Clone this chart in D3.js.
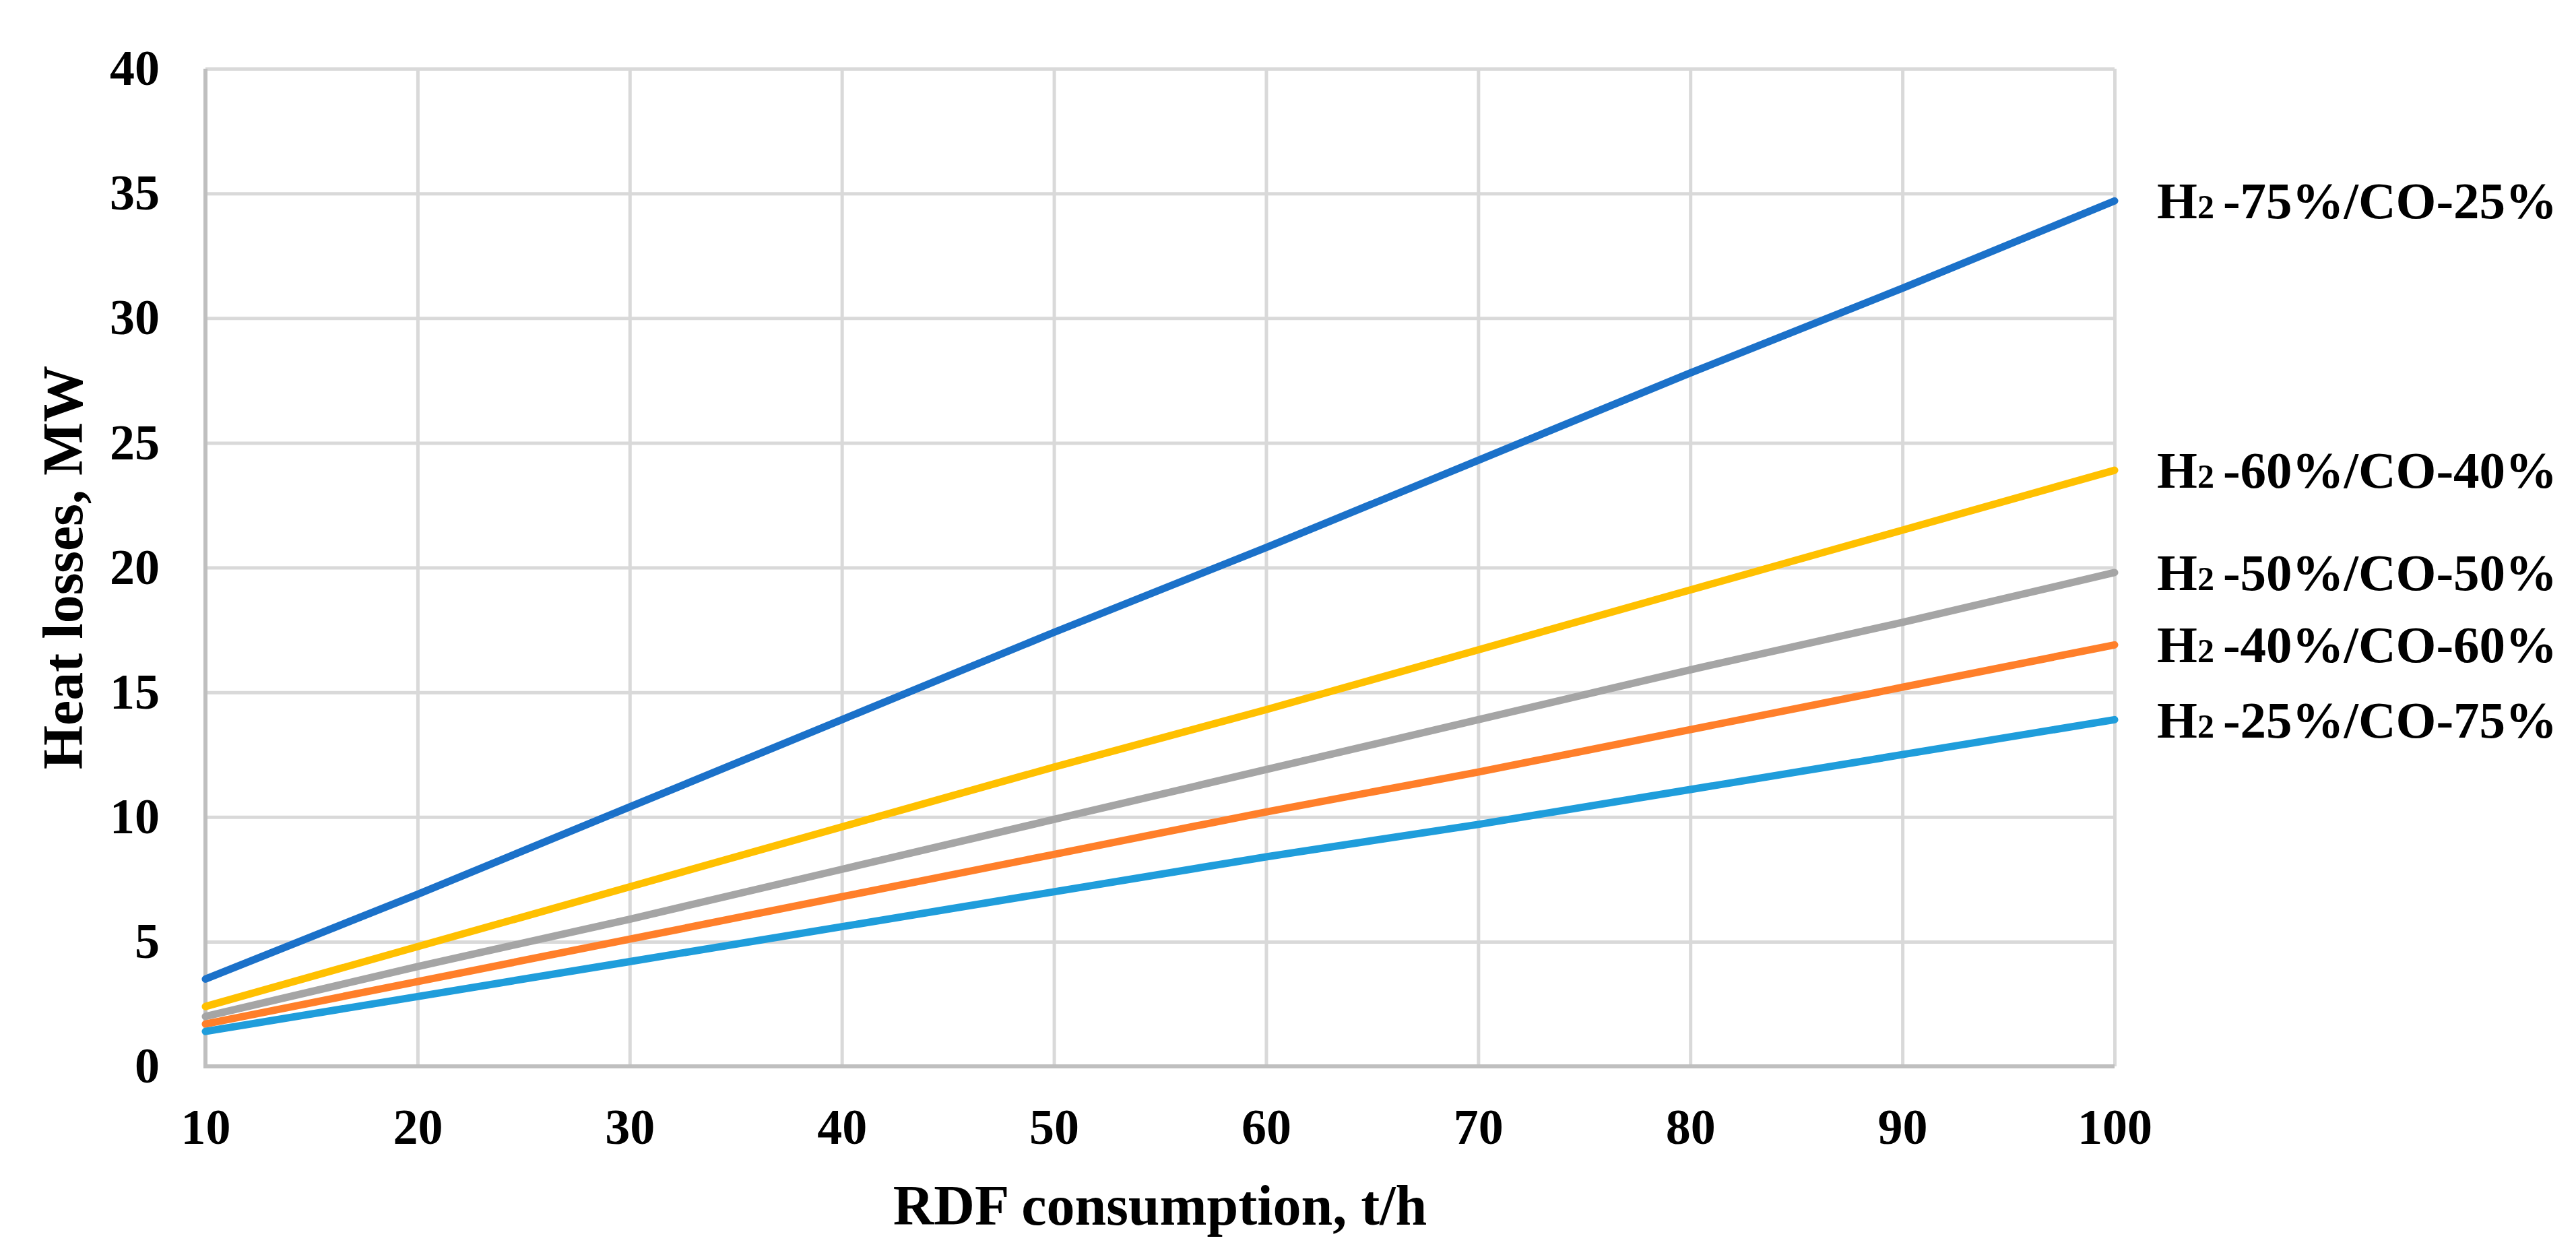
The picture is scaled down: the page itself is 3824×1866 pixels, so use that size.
<!DOCTYPE html>
<html>
<head>
	<title>Heat losses vs RDF consumption</title>
	<script src="https://d3js.org/d3.v7.min.js"></script>
	<style>
		body { margin: 0; background: #ffffff; }
		text { font-family: "Liberation Serif", "Times New Roman", serif; font-weight: bold; fill: #000000; }
		.tick text { font-size: 74px; }
		.axis-title { font-size: 84px; }
		.series-label { font-size: 77px; }
	</style>
</head>
<body>
	<div id="chart"></div>

	<script>
		// Data
		var xValues = [10, 20, 30, 40, 50, 60, 70, 80, 90, 100];
		var xTicks = [10, 20, 30, 40, 50, 60, 70, 80, 90, 100];
		var yTicks = [0, 5, 10, 15, 20, 25, 30, 35, 40];

		var h75co25 = [3.5, 6.9, 10.4, 13.9, 17.4, 20.8, 24.3, 27.8, 31.2, 34.7];
		var h60co40 = [2.4, 4.8, 7.2, 9.6, 12.0, 14.3, 16.7, 19.1, 21.5, 23.9];
		var h50co50 = [2.0, 4.0, 5.9, 7.9, 9.9, 11.9, 13.9, 15.9, 17.8, 19.8];
		var h40co60 = [1.7, 3.4, 5.1, 6.8, 8.5, 10.2, 11.8, 13.5, 15.2, 16.9];
		var h25co75 = [1.4, 2.8, 4.2, 5.6, 7.0, 8.4, 9.7, 11.1, 12.5, 13.9];

		// label parts: H, subscript 2, rest
		var labelRest = ["-75%/CO-25%", "-60%/CO-40%", "-50%/CO-50%", "-40%/CO-60%", "-25%/CO-75%"];
		var seriesColors = ["#1b71c9", "#ffc000", "#a5a5a5", "#ff7f2a", "#1f9ddb"];
		var seriesValues = [h75co25, h60co40, h50co50, h40co60, h25co75];

		var series = seriesValues.map(function (vals, i) {
			return {
				rest: labelRest[i],
				color: seriesColors[i],
				points: vals.map(function (v, j) { return { x: xValues[j], y: v }; })
			};
		});

		var W = 3824, H = 1866;
		var margin = { top: 102, right: 685, bottom: 283, left: 305 };
		var width = W - margin.left - margin.right,
			height = H - margin.top - margin.bottom;

		var svg = d3.select("#chart").append("svg")
			.attr("width", W)
			.attr("height", H);

		var g = svg.append("g")
			.attr("transform", "translate(" + margin.left + "," + margin.top + ")");

		var x = d3.scaleLinear().domain([10, 100]).range([0, width]);
		var y = d3.scaleLinear().domain([0, 40]).range([height, 0]);

		// gridlines
		var gridY = g.append("g")
			.call(d3.axisLeft(y).tickValues(yTicks).tickSize(-width).tickFormat(""));
		gridY.select(".domain").remove();
		gridY.selectAll("line").attr("stroke", "#d9d9d9").attr("stroke-width", 5);

		var gridX = g.append("g")
			.attr("transform", "translate(0," + height + ")")
			.call(d3.axisBottom(x).tickValues(xTicks).tickSize(-height).tickFormat(""));
		gridX.select(".domain").remove();
		gridX.selectAll("line").attr("stroke", "#d9d9d9").attr("stroke-width", 5);

		// axis lines
		g.append("line")
			.attr("x1", 0).attr("x2", 0).attr("y1", 0).attr("y2", height)
			.attr("stroke", "#bfbfbf").attr("stroke-width", 6);
		g.append("line")
			.attr("x1", -3).attr("x2", width).attr("y1", height).attr("y2", height)
			.attr("stroke", "#bfbfbf").attr("stroke-width", 6);

		// tick labels
		var yAxis = g.append("g")
			.call(d3.axisLeft(y).tickValues(yTicks).tickSize(0).tickPadding(68));
		yAxis.select(".domain").remove();
		yAxis.selectAll("text").attr("font-family", null).attr("font-size", null);

		var xAxis = g.append("g")
			.attr("transform", "translate(0," + height + ")")
			.call(d3.axisBottom(x).tickValues(xTicks).tickSize(0));
		xAxis.select(".domain").remove();
		xAxis.selectAll("text")
			.attr("font-family", null).attr("font-size", null)
			.attr("y", 115).attr("dy", "0");
		yAxis.attr("font-family", null).attr("font-size", null);
		xAxis.attr("font-family", null).attr("font-size", null);

		// lines
		var line = d3.line()
			.x(function (d) { return x(d.x); })
			.y(function (d) { return y(d.y); });

		g.selectAll(".series")
			.data(series)
			.enter()
			.append("path")
			.attr("class", "series")
			.attr("d", function (d) { return line(d.points); })
			.attr("fill", "none")
			.attr("stroke", function (d) { return d.color; })
			.attr("stroke-width", 11)
			.attr("stroke-linecap", "round");

		// labels at the end of each line
		var labels = g.selectAll(".series-label")
			.data(series)
			.enter()
			.append("text")
			.attr("class", "series-label")
			.attr("x", width + 63)
			.attr("y", function (d) { return y(d.points[d.points.length - 1].y); })
			.attr("dy", "0.34em");
		labels.append("tspan").text("H");
		labels.append("tspan").attr("font-size", "0.65em").text("2");
		labels.append("tspan").attr("dx", 13).text(function (d) { return d.rest; });

		// axis titles
		svg.append("text")
			.attr("class", "axis-title")
			.attr("text-anchor", "middle")
			.attr("x", margin.left + width / 2)
			.attr("y", 1818)
			.text("RDF consumption, t/h");

		svg.append("text")
			.attr("class", "axis-title")
			.attr("text-anchor", "middle")
			.attr("transform", "translate(122," + (margin.top + height / 2) + ") rotate(-90)")
			.text("Heat losses, MW");
	</script>
</body>
</html>
